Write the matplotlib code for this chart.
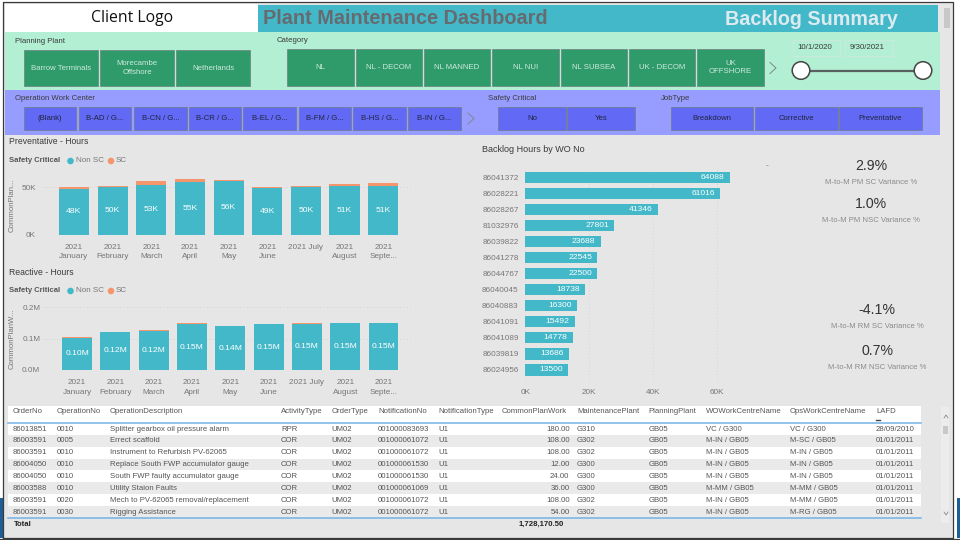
import matplotlib
matplotlib.use("Agg")
import matplotlib.pyplot as plt
from matplotlib.patches import Rectangle, Circle

plt.rcParams['font.family'] = ['Liberation Sans', 'DejaVu Sans']

# ---------- data ----------
months = ["2021\nJanuary", "2021\nFebruary", "2021\nMarch", "2021\nApril", "2021\nMay",
          "2021\nJune", "2021 July", "2021\nAugust", "2021\nSepte..."]
prev_non_sc = [48.4, 50.2, 52.6, 55.0, 56.3, 48.8, 50.4, 51.0, 51.0]
prev_sc = [1.4, 1.1, 4.2, 3.7, 1.7, 1.4, 1.1, 2.8, 3.5]
prev_ticks = [0, 50]
prev_tick_labels = ["0K", "50K"]
reac_non_sc = [0.103, 0.122, 0.124, 0.147, 0.140, 0.146, 0.148, 0.150, 0.151]
reac_sc = [0.002, 0.001, 0.003, 0.005, 0.001, 0.001, 0.001, 0.001, 0.001]
reac_ticks = [0.0, 0.1, 0.2]
reac_tick_labels = ["0.0M", "0.1M", "0.2M"]

wo_numbers = ["86041372", "86028221", "86028267", "81032976", "86039822", "86041278", "86044767",
              "86040045", "86040883", "86041091", "86041089", "86039819", "86024956"]
wo_hours = [64088, 61016, 41346, 27801, 23688, 22545, 22500, 18738, 16300, 15492, 14778, 13686, 13500]
wo_ticks = [0, 20000, 40000, 60000]
wo_tick_labels = ["0K", "20K", "40K", "60K"]

kpi_values = ["2.9%", "1.0%", "-4.1%", "0.7%"]
kpi_names = ["M-to-M PM SC Variance %", "M-to-M PM NSC Variance %",
             "M-to-M RM SC Variance %", "M-to-M RM NSC Variance %"]

plants = ["Barrow Terminals", "Morecambe\nOffshore", "Netherlands"]
categories = ["NL", "NL - DECOM", "NL MANNED", "NL NUI", "NL SUBSEA", "UK - DECOM", "UK\nOFFSHORE"]
work_centers = ["(Blank)", "B-AD / G...", "B-CN / G...", "B-CR / G...", "B-EL / G...",
                "B-FM / G...", "B-HS / G...", "B-IN / G..."]
safety = ["No", "Yes"]
job_types = ["Breakdown", "Corrective", "Preventative"]

table_columns = ["OrderNo", "OperationNo", "OperationDescription", "ActivityType", "OrderType",
                 "NotificationNo", "NotificationType", "CommonPlanWork", "MaintenancePlant",
                 "PlanningPlant", "WOWorkCentreName", "OpsWorkCentreName", "LAFD"]
order_no = ["86013851", "86003591", "86003591", "86004050", "86004050", "86003588", "86003591", "86003591"]
operation_no = ["0010", "0005", "0010", "0010", "0010", "0010", "0020", "0030"]
descriptions = ["Splitter gearbox oil pressure alarm", "Errect scaffold", "Instrument to Refurbish PV-62065",
                "Replace South FWP accumulator gauge", "South FWP faulty accumulator gauge",
                "Utility Staion Faults", "Mech to PV-62065 removal/replacement", "Rigging Assistance"]
activity = ["RPR", "COR", "COR", "COR", "COR", "COR", "COR", "COR"]
order_type = ["UM02"] * 8
notification_no = ["001000083693", "001000061072", "001000061072", "001000061530",
                   "001000061530", "001000061069", "001000061072", "001000061072"]
notification_type = ["U1"] * 8
plan_work = ["180.00", "108.00", "108.00", "12.00", "24.00", "36.00", "108.00", "54.00"]
maint_plant = ["G310", "G302", "G302", "G300", "G300", "G300", "G302", "G302"]
planning_plant = ["GB05"] * 8
wo_centre = ["VC / G300", "M-IN / GB05", "M-IN / GB05", "M-IN / GB05", "M-IN / GB05",
             "M-MM / GB05", "M-IN / GB05", "M-IN / GB05"]
ops_centre = ["VC / G300", "M-SC / GB05", "M-IN / GB05", "M-IN / GB05", "M-IN / GB05",
              "M-MM / GB05", "M-MM / GB05", "M-RG / GB05"]
lafd = ["28/09/2010"] + ["01/01/2011"] * 7
total_work = "1,728,170.50"

# ---------- style ----------
TEAL = "#43b8c9"
ORANGE = "#f5956b"
PANEL = "#e6e6e6"
GREEN_BAND = "#b3efd2"
PERI_BAND = "#979dff"
GREEN_BTN = "#2f9b6b"
BLUE_BTN = "#6269f4"
GREY_TXT = "#767676"
DARK_TXT = "#3a3a3a"

W, H = 960, 540
fig = plt.figure(figsize=(W / 100, H / 100), dpi=100, facecolor="white")
bg = fig.add_axes([0, 0, 1, 1], zorder=0)
bg.set_xlim(0, W)
bg.set_ylim(H, 0)
bg.axis("off")


def rect(x0, y0, x1, y1, color, ec="none", lw=0, z=1):
    bg.add_patch(Rectangle((x0, y0), x1 - x0, y1 - y0, facecolor=color, edgecolor=ec, linewidth=lw, zorder=z))


def txt(x, y, s, size=5.6, color=DARK_TXT, ha="left", va="center", **kw):
    bg.text(x, y, s, fontsize=size, color=color, ha=ha, va=va, zorder=5, **kw)


def ax_px(x0, y0, x1, y1):
    a = fig.add_axes([x0 / W, 1 - y1 / H, (x1 - x0) / W, (y1 - y0) / H], zorder=2)
    a.patch.set_alpha(0)
    for s in a.spines.values():
        s.set_visible(False)
    a.tick_params(length=0, labelsize=5.9, labelcolor=GREY_TXT)
    return a


# ---------- page chrome ----------
rect(0, 498, 3, 538, "#1f5f99")
rect(956.5, 498, 960, 538, "#1f5f99")
rect(3, 2, 952.7, 538, PANEL)
rect(5, 4, 258, 32, "white", z=2)
rect(258, 4.5, 937.5, 32, TEAL, z=2)
rect(5, 32, 939.5, 90, GREEN_BAND, z=2)
rect(5, 90, 939.5, 135, PERI_BAND, z=2)
rect(943.5, 8, 949.5, 28, "#c8c8c8", z=2)
bg.plot([3, 3, 952.7, 952.7, 3], [538, 1.5, 1.5, 538, 538], color="#3a3a3a", lw=0.9, zorder=6)
bg.plot([0, 960], [538.6, 538.6], color="#3a3a3a", lw=0.9, zorder=6)

bg.text(132, 18.5, "Client Logo", fontsize=11.3, family="Open Sans", color="#111111", ha="center", va="center", zorder=5)
txt(263, 19, "Plant Maintenance Dashboard", size=14.3, color="#666b70", weight="bold")
txt(811, 19.5, "Backlog Summary", size=14.2, color="#dcebf0", ha="center", weight="bold")


def button(x0, x1, y0, y1, label, color, tcolor):
    rect(x0, y0, x1, y1, color, ec="#6f7f80", lw=0.5, z=3)
    txt((x0 + x1) / 2, (y0 + y1) / 2, label, size=5.6, color=tcolor, ha="center", linespacing=1.35)


def chevron(x, y):
    bg.plot([x - 3, x + 3, x - 3], [y - 5.5, y, y + 5.5], color="#7a8a8a", lw=0.7, zorder=4)


txt(15, 41.5, "Planning Plant")
txt(277, 41, "Category")
for (x0, x1), lab in zip([(24, 98), (100, 174), (176, 250)], plants):
    button(x0, x1, 50, 86, lab, GREEN_BTN, "#cdeadd")
for (x0, x1), lab in zip([(287, 354), (356, 422), (424, 490), (492, 559), (561, 627), (629, 695), (697, 764)], categories):
    button(x0, x1, 49, 86, lab, GREEN_BTN, "#cdeadd")
chevron(773, 68)

rect(792.5, 39.5, 840, 56, GREEN_BAND, ec="#cfe9dc", lw=0.6, z=3)
rect(845, 39.5, 893, 56, GREEN_BAND, ec="#cfe9dc", lw=0.6, z=3)
txt(814.5, 47.5, "10/1/2020", size=5.7, ha="center")
txt(867, 47.5, "9/30/2021", size=5.7, ha="center")
bg.plot([801, 923], [70.5, 70.5], color="#5a5f5f", lw=1.6, zorder=3)
for cx in (801, 923):
    bg.add_patch(Circle((cx, 70.5), 8.8, facecolor="white", edgecolor="#444444", lw=1.1, zorder=4))

txt(15, 99, "Operation Work Center")
txt(488, 99, "Safety Critical")
txt(661, 99, "JobType")
for (x0, x1), lab in zip([(24, 76), (79, 131), (134, 187), (189, 241), (243, 296), (299, 351), (353, 406), (408, 461)], work_centers):
    button(x0, x1, 107, 130, lab, BLUE_BTN, "#20243f")
chevron(471, 118.5)
for (x0, x1), lab in zip([(498, 566), (567, 635)], safety):
    button(x0, x1, 107, 130, lab, BLUE_BTN, "#20243f")
for (x0, x1), lab in zip([(671, 753), (755, 838), (839, 922)], job_types):
    button(x0, x1, 107, 130, lab, BLUE_BTN, "#20243f")


# ---------- stacked column charts ----------
def columns(box, x_lim, y_lim, non_sc, sc, ticks, tick_labels, label_fmt, ypad):
    a = ax_px(*box)
    xs = list(range(len(non_sc)))
    b1 = a.bar(xs, non_sc, width=0.78, color=TEAL, zorder=3)
    a.bar(xs, sc, bottom=non_sc, width=0.78, color=ORANGE, zorder=3)
    a.bar_label(b1, labels=[label_fmt(v) for v in non_sc], label_type="center", color="white", fontsize=6.1, zorder=4)
    a.set_xlim(*x_lim)
    a.set_ylim(*y_lim)
    a.set_xticks(xs)
    a.set_xticklabels(months, linespacing=1.5)
    a.set_yticks(ticks)
    a.set_yticklabels(tick_labels)
    a.grid(axis="y", color="#cfcfcf", lw=0.6, ls=(0, (1, 3)), zorder=0)
    a.tick_params(axis="x", pad=6.5)
    a.tick_params(axis="y", pad=ypad)
    return a


txt(9, 142, "Preventative - Hours", size=6.2)
txt(9, 160, "Safety Critical", size=5.5, color="#555555", weight="bold")
txt(9, 272.5, "Reactive - Hours", size=6.2)
txt(9, 290.5, "Safety Critical", size=5.5, color="#555555", weight="bold")
for y in (161, 291):
    bg.add_patch(Circle((70.5, y), 3.3, facecolor=TEAL, zorder=4))
    txt(76, y - 0.5, "Non SC", size=5.8, color=GREY_TXT)
    bg.add_patch(Circle((111, y), 3.3, facecolor=ORANGE, zorder=4))
    txt(116, y - 0.5, "SC", size=5.8, color=GREY_TXT)
txt(12, 205, "CommonPlan...", size=5.6, color=GREY_TXT, rotation=90, ha="center")
txt(12, 339, "CommonPlanW...", size=5.6, color=GREY_TXT, rotation=90, ha="center")

columns((43, 176, 413, 234.5), (-0.8, 8.77), (0, 61.8), prev_non_sc, prev_sc, prev_ticks, prev_tick_labels,
        lambda v: f"{round(v)}K", 5)
columns((43, 307, 413, 370), (-0.89, 8.77), (0, 0.2016), reac_non_sc, reac_sc, reac_ticks, reac_tick_labels,
        lambda v: f"{v:.2f}M", 2)

# ---------- backlog bars ----------
txt(482, 150, "Backlog Hours by WO No", size=6.5)
a3 = ax_px(525.3, 169, 768, 381)
rows = list(range(len(wo_hours)))
b3 = a3.barh(rows, wo_hours, height=0.72, color=TEAL, zorder=3)
a3.bar_label(b3, labels=[str(v) for v in wo_hours], label_type="edge", padding=-21, color="white", fontsize=6.1, zorder=4)
a3.set_ylim(12.7, -0.52)
a3.set_xlim(0, 75900)
a3.set_yticks(rows)
a3.set_yticklabels(wo_numbers)
a3.set_xticks(wo_ticks)
a3.set_xticklabels(wo_tick_labels)
a3.grid(axis="x", color="#cfcfcf", lw=0.6, ls=(0, (1, 3)), zorder=0)
a3.tick_params(axis="y", pad=4.8)
a3.tick_params(axis="x", pad=6)
txt(767, 166, "-", size=6, color=GREY_TXT, ha="center")

# ---------- KPI cards ----------
for (cx, vy, ly), val, name in zip([(871, 166, 182.7), (871, 204.3, 221), (877, 310, 327), (877, 350.7, 367.5)], kpi_values, kpi_names):
    txt(cx, vy, val, size=10.2, color="#333333", ha="center")
    txt(cx, ly, name, size=5.6, color="#8a8a8a", ha="center")

# ---------- table ----------
rect(8, 406, 921, 423, "white", z=2)
row_h = 11.85
columns_data = [order_no, operation_no, descriptions, activity, order_type, notification_no, notification_type,
                plan_work, maint_plant, planning_plant, wo_centre, ops_centre, lafd]
col_x = [13, 57, 110, 281, 331.5, 378, 438, 569.5, 577, 648.5, 705.5, 790, 876]
head_x = [13, 57, 110, 281, 331.5, 378, 438, 502, 577, 648.5, 705.5, 790, 876]
for i in range(len(order_no)):
    y0 = 423 + i * row_h
    rect(8, y0, 921, y0 + row_h, "white" if i % 2 == 0 else "#eaeaea", z=2)
    for j, col in enumerate(columns_data):
        txt(col_x[j], y0 + row_h / 2 + 0.2, col[i], size=5.6, color="#555555", ha="right" if j == 7 else "left")
for x, name in zip(head_x, table_columns):
    txt(x, 411.5, name, size=5.6, color="#555555")
bg.plot([876, 880], [420, 420], color="#444444", lw=1.0, zorder=5)
bg.plot([8, 921], [423, 423], color="#74b3e6", lw=1.1, zorder=4)
bg.plot([8, 921], [518, 518], color="#74b3e6", lw=1.1, zorder=4)
txt(14, 524.5, "Total", size=5.6, color="#222222", weight="bold")
txt(564, 524.5, total_work, size=5.6, color="#222222", ha="right", weight="bold")

# table scrollbar
rect(941, 407, 949, 523, "#ececec", z=2)
rect(942.5, 426, 948, 434, "#c8c8c8", z=3)
bg.plot([944, 946, 948], [418, 415, 418], color="#777777", lw=0.5, zorder=4)
bg.plot([944, 946, 948], [512, 515, 512], color="#777777", lw=0.5, zorder=4)

fig.savefig("out.png", dpi=100)
